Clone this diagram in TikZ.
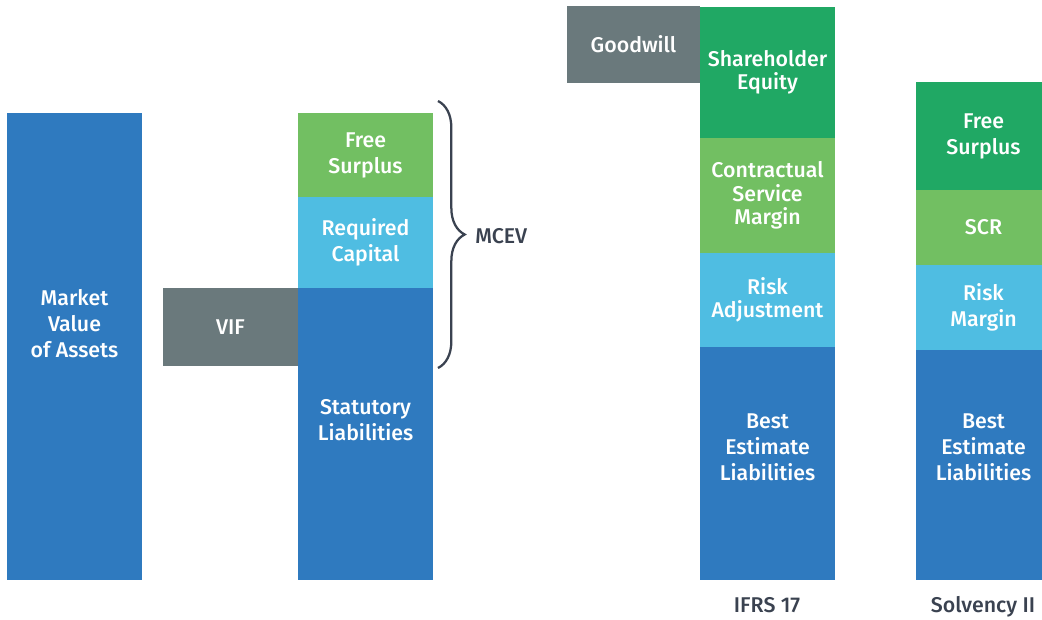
\documentclass[tikz,border=0pt]{standalone}
\usepackage{fontspec}
\setmainfont{Fira Sans}[BoldFont={Fira Sans Medium}]
\usetikzlibrary{positioning,calc,decorations.pathreplacing}
\definecolor{deepblue}{HTML}{2F7ABF}
\definecolor{skyblue}{HTML}{4FBDE2}
\definecolor{leafgreen}{HTML}{72BF62}
\definecolor{darkgreen}{HTML}{20A864}
\definecolor{slate}{HTML}{6A797C}
\definecolor{ink}{HTML}{3A4250}
\newcommand{\cellfont}{\fontsize{16}{19.5}\selectfont\bfseries}
\newcommand{\tightfont}{\fontsize{16}{17.6}\selectfont\bfseries}

\begin{document}
\begin{tikzpicture}[x=0.75pt,y=-0.75pt,
    blk/.style={anchor=north west, inner sep=0pt, outer sep=0pt,
                minimum width=101.25pt, text=white, align=center, font=\cellfont},
    txt/.style={inner sep=0pt, text=white, align=center, font=\cellfont},
    colcaption/.style={inner sep=0pt, text=ink, font=\cellfont},
    mcevbrace/.style={decorate, decoration={brace, amplitude=20pt},
                      line width=1.7pt, draw=ink}]
  \useasboundingbox (0,0) rectangle (1042,620);

  % market value of assets
  \node[blk, fill=deepblue, minimum height=467*0.75pt] (mva) at (7,113) {};
  \node[txt] (mvatxt) at ($(mva.center)+(0,-23)$) {Market\\Value\\of Assets};

  % MCEV column
  \node[blk, fill=slate, minimum height=78*0.75pt] (vif) at (163,288) {VIF};
  \node[blk, fill=leafgreen, minimum height=84*0.75pt] (fsa) at (298,113) {Free\\Surplus};
  \node[blk, fill=skyblue, minimum height=91*0.75pt, below=0pt of fsa] (rc) {Required\\Capital};
  \node[blk, fill=deepblue, minimum height=292*0.75pt, below=0pt of rc] (sl) {};
  \node[txt] (sltxt) at ($(sl.center)+(0,-14)$) {Statutory\\Liabilities};

  \coordinate (bt) at (438,101);
  \coordinate (bb) at (438,368);
  \draw[mcevbrace] (bt) -- (bb);
  \node[colcaption, anchor=west] (mcev) at (475,236) {MCEV};

  % IFRS 17 column
  \node[blk, fill=slate, minimum width=133*0.75pt, minimum height=77*0.75pt] (gw) at (567,6) {Goodwill};
  \node[blk, fill=darkgreen, minimum height=131*0.75pt, font=\tightfont] (se) at (700,7) {Shareholder\\Equity};
  \node[blk, fill=leafgreen, minimum height=115*0.75pt, font=\tightfont, below=0pt of se] (csm) {Contractual\\Service\\Margin};
  \node[blk, fill=skyblue, minimum height=94*0.75pt, font=\tightfont, below=0pt of csm] (ra) {Risk\\Adjustment};
  \node[blk, fill=deepblue, minimum height=233*0.75pt, below=0pt of ra] (bela) {};
  \node[txt] (belatxt) at ($(bela.center)+(0,-16)$) {Best\\Estimate\\Liabilities};
  \node[colcaption, anchor=base] (ifrs) at (767,612) {IFRS 17};

  % Solvency II column
  \node[blk, fill=darkgreen, minimum height=108*0.75pt] (fsb) at (916,82) {Free\\Surplus};
  \node[blk, fill=leafgreen, minimum height=75*0.75pt, below=0pt of fsb] (scr) {SCR};
  \node[blk, fill=skyblue, minimum height=85*0.75pt, below=0pt of scr] (rm) {Risk\\Margin};
  \node[blk, fill=deepblue, minimum height=230*0.75pt, below=0pt of rm] (belb) {};
  \node[txt] (belbtxt) at ($(belb.center)+(0,-18)$) {Best\\Estimate\\Liabilities};
  \node[colcaption, anchor=base] (solv) at (983,612) {Solvency II};
\end{tikzpicture}
\end{document}
